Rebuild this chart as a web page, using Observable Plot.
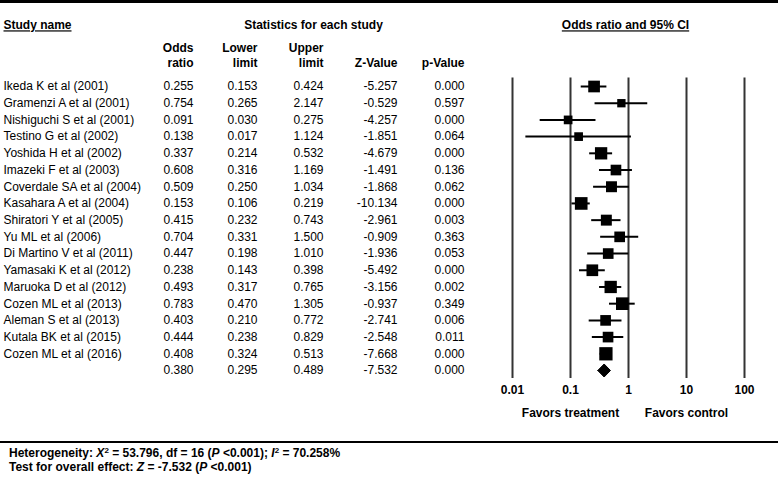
<!DOCTYPE html>
<html>
<head>
<meta charset="utf-8">
<script src="https://cdn.jsdelivr.net/npm/d3@7"></script>
<script src="https://cdn.jsdelivr.net/npm/@observablehq/plot@0.6"></script>
<style>
  body { margin: 0; background: #fff; }
  #wrap { position: relative; width: 778px; height: 477px; background: #fff; font-family: "Liberation Sans", Arial, sans-serif; }
  #chart { position: absolute; left: 0; top: 0; }
  #topline { position: absolute; left: 0; top: 0; width: 778px; height: 3px; background: #000; }
  #footer { position: absolute; left: 0; top: 441px; width: 778px; border-top: 2.5px solid #000; padding-top: 3px;
            font: bold 12px "Liberation Sans", Arial, sans-serif; line-height: 14px; color: #000; }
  #footer div { padding-left: 9px; }
  #footer sup { font-size: 8px; line-height: 0; vertical-align: 4px; }
</style>
</head>
<body>
<div id="wrap">
  <div id="chart"></div>
  <div id="topline"></div>
  <div id="footer"></div>
</div>
<script>
// ---- data ----
const studies = [
  "Ikeda K et al (2001)", "Gramenzi A et al (2001)", "Nishiguchi S et al (2001)", "Testino G et al (2002)",
  "Yoshida H et al (2002)", "Imazeki F et al (2003)", "Coverdale SA et al (2004)", "Kasahara A et al (2004)",
  "Shiratori Y et al (2005)", "Yu ML et al (2006)", "Di Martino V et al (2011)", "Yamasaki K et al (2012)",
  "Maruoka D et al (2012)", "Cozen ML et al (2013)", "Aleman S et al (2013)", "Kutala BK et al (2015)",
  "Cozen ML et al (2016)"
];
const oddsRatio  = [0.255, 0.754, 0.091, 0.138, 0.337, 0.608, 0.509, 0.153, 0.415, 0.704, 0.447, 0.238, 0.493, 0.783, 0.403, 0.444, 0.408];
const lowerLimit = [0.153, 0.265, 0.030, 0.017, 0.214, 0.316, 0.250, 0.106, 0.232, 0.331, 0.198, 0.143, 0.317, 0.470, 0.210, 0.238, 0.324];
const upperLimit = [0.424, 2.147, 0.275, 1.124, 0.532, 1.169, 1.034, 0.219, 0.743, 1.500, 1.010, 0.398, 0.765, 1.305, 0.772, 0.829, 0.513];
const zValue     = [-5.257, -0.529, -4.257, -1.851, -4.679, -1.491, -1.868, -10.134, -2.961, -0.909, -1.936, -5.492, -3.156, -0.937, -2.741, -2.548, -7.668];
const pValue     = [0.000, 0.597, 0.000, 0.064, 0.000, 0.136, 0.062, 0.000, 0.003, 0.363, 0.053, 0.000, 0.002, 0.349, 0.006, 0.011, 0.000];
const weight     = [6.5, 3.3, 3.6, 3.6, 7.2, 5.4, 5.7, 7.6, 5.7, 5.4, 5.4, 6.5, 7.2, 7.6, 5.4, 5.4, 8.4];
const summaryOR = 0.380, summaryLower = 0.295, summaryUpper = 0.489, summaryZ = -7.532, summaryP = 0.000;
const axisTicks = [0.01, 0.1, 1, 10, 100];
const favorLabels = ["Favors treatment", "Favors control"];
const favorAt = [0.1, 10];
const heterogeneity = {chi2: "53.796", df: 16, p: "<0.001", i2: "70.258%"};
const overall = {z: "-7.532", p: "<0.001"};

// ---- table ----
const rows = studies.map((name, i) => ({
  i, name, or: oddsRatio[i], lower: lowerLimit[i], upper: upperLimit[i], z: zValue[i], p: pValue[i], w: weight[i]
}));
const summaryRow = {i: studies.length, name: "", or: summaryOR, lower: summaryLower, upper: summaryUpper, z: summaryZ, p: summaryP};
const allRows = [...rows, summaryRow];
const dh = 0.39; // diamond half-height (rows)
const diamond = [
  {x: summaryLower, y: summaryRow.i}, {x: summaryOR, y: summaryRow.i - dh},
  {x: summaryUpper, y: summaryRow.i}, {x: summaryOR, y: summaryRow.i + dh}, {x: summaryLower, y: summaryRow.i}
];

// ---- layout ----
const W = 778, H = 441, mTop = 77.5, mBottom = 63, xL = 512, xR = 744;
const cols = [
  {key: "or", right: 193, h1: "Odds", h2: "ratio"},
  {key: "lower", right: 257, h1: "Lower", h2: "limit"},
  {key: "upper", right: 323, h1: "Upper", h2: "limit"},
  {key: "z", right: 397, h1: "", h2: "Z-Value"},
  {key: "p", right: 464, h1: "", h2: "p-Value"}
];
const fs = 12;
const hdr = {lineAnchor: "middle", fontSize: fs, fontWeight: "bold", fill: "#000"};
const colMarks = cols.flatMap(c => [
  Plot.text(allRows, {y: "i", text: d => d[c.key].toFixed(3), frameAnchor: "left", dx: c.right - xL, textAnchor: "end", lineAnchor: "middle", fontSize: fs, fill: "#000"}),
  Plot.text([c.h1], {text: d => d, frameAnchor: "top-left", dx: c.right - xL, dy: 47.7 - mTop, textAnchor: "end", ...hdr}),
  Plot.text([c.h2], {text: d => d, frameAnchor: "top-left", dx: c.right - xL, dy: 63 - mTop, textAnchor: "end", ...hdr})
]);

const chart = Plot.plot({
  width: W, height: H,
  marginLeft: xL, marginRight: W - xR, marginTop: mTop, marginBottom: mBottom,
  style: {fontFamily: '"Liberation Sans", Arial, sans-serif', fontSize: "12px", background: "#fff", color: "#000"},
  x: {type: "log", domain: [0.01, 100], range: [xL, xR]},
  y: {domain: [0, studies.length], range: [86, 370], axis: null},
  r: {type: "sqrt", domain: [0, d3.max(weight)], range: [0, 7.5]},
  marks: [
    Plot.ruleX(axisTicks, {stroke: "#333", strokeWidth: 2}),
    Plot.ruleY(rows, {y: "i", x1: "lower", x2: "upper", stroke: "#000", strokeWidth: 2}),
    Plot.dot(rows, {x: "or", y: "i", r: "w", symbol: "square", fill: "#000", stroke: "none"}),
    Plot.line(diamond, {x: "x", y: "y", fill: "#000", stroke: "#000", strokeWidth: 1}),
    Plot.axisX(axisTicks, {anchor: "bottom", tickSize: 0, tickPadding: 7, tickFormat: d => String(d), fontSize: fs, fontWeight: "bold", label: null, fill: "#000"}),
    Plot.text(favorLabels, {x: (d, i) => favorAt[i], text: d => d, frameAnchor: "bottom", dy: 35, ...hdr}),
    Plot.text(rows, {y: "i", text: "name", frameAnchor: "left", dx: 3 - xL, textAnchor: "start", lineAnchor: "middle", fontSize: fs, fill: "#000"}),
    ...colMarks,
    Plot.text(["Study name"], {text: d => d, frameAnchor: "top-left", dx: 3 - xL, dy: 25 - mTop, textAnchor: "start", ...hdr}),
    Plot.text(["Statistics for each study"], {text: d => d, frameAnchor: "top-left", dx: 313 - xL, dy: 25 - mTop, textAnchor: "middle", ...hdr}),
    Plot.text(["Odds ratio and 95% CI"], {x: [1], text: d => d, frameAnchor: "top", dx: -3, dy: 25 - mTop, ...hdr})
  ]
});
d3.select(chart).selectAll("text")
  .filter(function() { return this.textContent === "Study name" || this.textContent === "Odds ratio and 95% CI"; })
  .style("text-decoration", "underline")
  .style("text-decoration-color", "#555")
  .style("text-underline-offset", "2px")
  .style("text-decoration-thickness", "1.5px");
document.getElementById("chart").append(chart);

document.getElementById("footer").innerHTML =
  `<div>Heterogeneity: <i>X</i><sup>2</sup> = ${heterogeneity.chi2}, df = ${heterogeneity.df} (<i>P</i> ${heterogeneity.p}); <i>I</i><sup>2</sup> = ${heterogeneity.i2}</div>` +
  `<div>Test for overall effect: <i>Z</i> = ${overall.z} (<i>P</i> ${overall.p})</div>`;
</script>
</body>
</html>
